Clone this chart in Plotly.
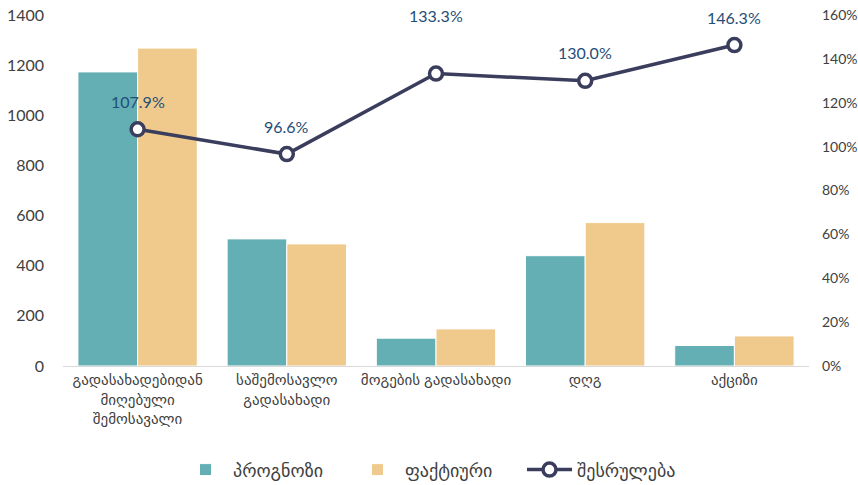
import plotly.graph_objects as go

categories = ["გადასახადებიდან<br>მიღებული<br>შემოსავალი", "საშემოსავლო<br>გადასახადი",
              "მოგების გადასახადი", "დღგ", "აქციზი"]
forecast = [1173, 507, 111, 440, 82]
actual = [1268, 487, 148, 572, 120]
execution = [1.079, 0.966, 1.333, 1.300, 1.463]
label_shift = [22, 22, 52, 22, 22]

teal = "#64AFB4"
tan = "#F0CA8C"
navy = "#3A3D5C"
lblc = "#1F4E79"
txt = "#404040"
font = "Lato, DejaVu Sans, sans-serif"

fig = go.Figure()
fig.add_trace(go.Bar(x=categories, y=forecast, name="პროგნოზი", marker=dict(color=teal, line=dict(color="white", width=1))))
fig.add_trace(go.Bar(x=categories, y=actual, name="ფაქტიური", marker=dict(color=tan, line=dict(color="white", width=1))))
fig.add_trace(go.Scatter(x=categories, y=execution, name="შესრულება", yaxis="y2", mode="lines+markers",
                         line=dict(color=navy, width=3.5),
                         marker=dict(size=13, color="white", line=dict(color=navy, width=3.5))))

for c, v, s in zip(categories, execution, label_shift):
    fig.add_annotation(x=c, y=v, yref="y2", text=f"{v*100:.1f}%", showarrow=False, yshift=s + 6,
                       font=dict(color=lblc, size=16, family=font))

fig.update_layout(
    width=858, height=485,
    margin=dict(l=63, r=49, t=15, b=119, autoexpand=False),
    paper_bgcolor="white", plot_bgcolor="white",
    font=dict(family=font, color=txt, size=14),
    barmode="group", bargap=0.2, bargroupgap=0.0,
    showlegend=True,
    legend=dict(orientation="h", x=0.5, xanchor="center", y=-0.296, yanchor="middle",
                font=dict(size=18, color=txt), itemwidth=45, entrywidth=112),
    xaxis=dict(showline=True, linecolor="#D9D9D9", linewidth=1, ticks="", tickfont=dict(size=15, color=txt),
               automargin=False),
    yaxis=dict(range=[0, 1400], dtick=200, showgrid=False, zeroline=False, tickfont=dict(size=16, color=txt),
               ticklabelstandoff=18, automargin=False),
    yaxis2=dict(range=[0, 1.6], dtick=0.2, tickformat=".0%", overlaying="y", side="right", showgrid=False,
                zeroline=False, tickfont=dict(size=14, color=txt), ticklabelstandoff=12, automargin=False),
)

fig.write_html("out.html", config={"displayModeBar": False},
               post_script="document.body.style.margin='0';document.body.style.overflow='hidden';")
